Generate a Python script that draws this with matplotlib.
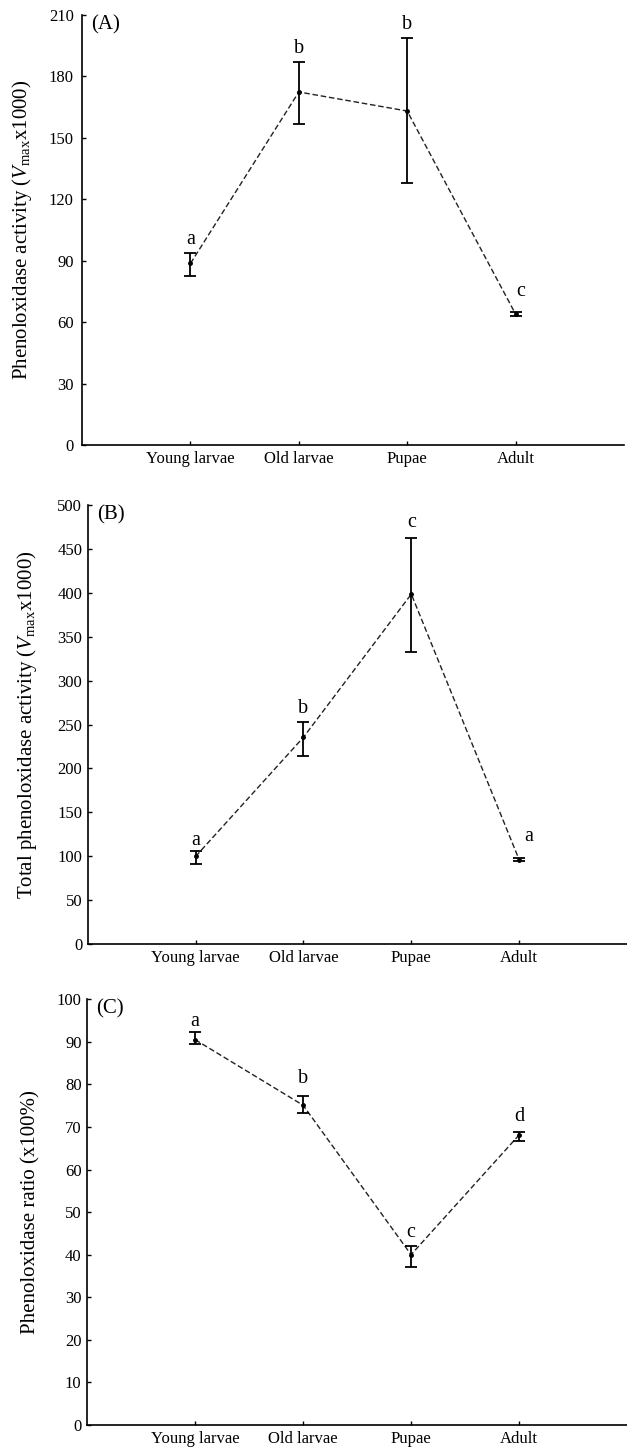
import matplotlib
matplotlib.use("Agg")
from matplotlib import pyplot as plt
import numpy as np

plt.rcParams['font.family'] = ['Liberation Serif', 'DejaVu Serif']
plt.rcParams['mathtext.fontset'] = 'custom'
plt.rcParams['mathtext.rm'] = 'Liberation Serif'
plt.rcParams['mathtext.it'] = 'Liberation Serif:italic'

stages = ["Young larvae", "Old larvae", "Pupae", "Adult"]

# panel A - phenoloxidase activity
po_mean = [88.7, 172.4, 163.1, 64.0]
po_low = [82.7, 156.8, 128.0, 62.8]
po_high = [93.6, 186.9, 198.9, 64.9]
po_letters = ["a", "b", "b", "c"]

# panel B - total phenoloxidase activity
tpo_mean = [99.8, 235.6, 398.7, 96.0]
tpo_low = [91.4, 214.3, 332.7, 94.1]
tpo_high = [106.0, 253.0, 462.8, 97.9]
tpo_letters = ["a", "b", "c", "a"]

# panel C - phenoloxidase ratio
ratio_mean = [90.5, 75.1, 40.0, 68.1]
ratio_low = [89.4, 73.2, 37.1, 66.8]
ratio_high = [92.3, 77.3, 42.1, 68.9]
ratio_letters = ["a", "b", "c", "d"]

fig = plt.figure(figsize=(6.27, 14.53), dpi=100)

panels = [
    ([0.131, 0.6937, 0.864, 0.296], po_mean, po_low, po_high, po_letters,
     np.arange(0, 211, 30), 210, "(A)",
     r"Phenoloxidase activity ($\mathit{V}_{\mathrm{max}}$x1000)", [0, 0, 0, 4], [3, 3, 3, 8], 6, 11),
    ([0.140, 0.3503, 0.860, 0.302], tpo_mean, tpo_low, tpo_high, tpo_letters,
     np.arange(0, 501, 50), 500, "(B)",
     r"Total phenoloxidase activity ($\mathit{V}_{\mathrm{max}}$x1000)", [0, 0, 0, 7], [1, 3, 4, 9], 4, 13),
    ([0.139, 0.0193, 0.861, 0.293], ratio_mean, ratio_low, ratio_high, ratio_letters,
     np.arange(0, 101, 10), 100, "(C)",
     "Phenoloxidase ratio (x100%)", [0, 0, 0, 0], [1, 6, 3, 4], 4, 12),
]

x = np.arange(1, 5)
for rect, mean, low, high, letters, yt, ymax, tag, ylab, dx, dy, tpad, lpad in panels:
    ax = fig.add_axes(rect)
    mean = np.array(mean)
    err = [mean - np.array(low), np.array(high) - mean]
    ax.plot(x, mean, linestyle=(0, (4, 2)), color='#222222', linewidth=1.0)
    ax.errorbar(x, mean, yerr=err, fmt='o', color='black', markersize=2.5,
                capsize=4.5, elinewidth=1.3, capthick=1.3)
    for xi, top, lab, ox, oy in zip(x, high, letters, dx, dy):
        ax.annotate(lab, (xi, top), xytext=(ox, oy), textcoords='offset points',
                    ha='center', va='bottom', fontsize=14.5)
    ax.set_xlim(0, 5)
    ax.set_ylim(0, ymax)
    ax.set_xticks(x)
    ax.set_xticklabels(stages, fontsize=13.5)
    ax.set_yticks(yt)
    ax.spines['top'].set_visible(False)
    ax.spines['right'].set_visible(False)
    ax.spines['left'].set_linewidth(1.2)
    ax.spines['bottom'].set_linewidth(1.2)
    ax.tick_params(direction='in', length=3, width=1.0, labelsize=12, pad=4)
    ax.tick_params(axis='y', pad=tpad)
    ax.set_ylabel(ylab, fontsize=15, labelpad=lpad)
    ax.text(0.017, 1.0, tag, transform=ax.transAxes, fontsize=15, va='top', ha='left')

fig.savefig("out.png", dpi=100)
